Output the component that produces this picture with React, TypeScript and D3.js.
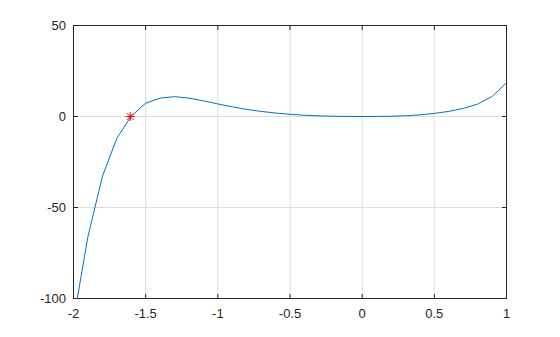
import React from "react";
import * as d3 from "d3";

const xValues = [-2.0, -1.9, -1.8, -1.7, -1.6, -1.5, -1.4, -1.3, -1.2, -1.1, -1.0, -0.9, -0.8, -0.7, -0.6, -0.5, -0.4, -0.3, -0.2, -0.1, 0.0, 0.1, 0.2, 0.3, 0.4, 0.5, 0.6, 0.7, 0.8, 0.9, 1.0];
const yValues = [-112, -66, -33, -12, 0.2, 7.3, 10.1, 10.9, 10.1, 8.6, 6.9, 5.3, 3.9, 2.8, 1.9, 1.2, 0.7, 0.35, 0.15, 0.03, 0, 0.03, 0.15, 0.4, 0.9, 1.7, 2.8, 4.4, 6.8, 11.0, 18.5];
const rootPoint = { x: -1.607, y: 0 };
const xTicks = [-2, -1.5, -1, -0.5, 0, 0.5, 1];
const yTicks = [-100, -50, 0, 50];

const W = 560, H = 337;
const L = 73.5, R = 506.5, T = 25.5, B = 298.5;

export default function App() {
  const x = d3.scaleLinear().domain([-2, 1]).range([L, R]);
  const y = d3.scaleLinear().domain([-100, 50]).range([B, T]);
  const pts = xValues.map((v, i) => [v, yValues[i]] as [number, number]);
  const line = d3.line<[number, number]>().x(d => x(d[0])).y(d => y(d[1]));
  const axisColor = "#262626";
  const gridColor = "#dcdcdc";
  const font = "'Liberation Sans', Arial, sans-serif";
  const tl = 4.5;
  const sx = x(rootPoint.x), sy = y(rootPoint.y), s = 4.5;
  return (
    <svg width={W} height={H} style={{ position: "absolute", left: 0, top: 0, background: "#fff" }}>
      <defs>
        <clipPath id="plotclip">
          <rect x={L} y={T} width={R - L} height={B - T} />
        </clipPath>
      </defs>
      <rect x={0} y={0} width={W} height={H} fill="#fff" />
      {xTicks.filter(t => t > -2 && t < 1).map(t => (
        <line key={"gx" + t} x1={x(t)} x2={x(t)} y1={T} y2={B} stroke={gridColor} strokeWidth={1} />
      ))}
      {yTicks.filter(t => t > -100 && t < 50).map(t => (
        <line key={"gy" + t} x1={L} x2={R} y1={y(t)} y2={y(t)} stroke={gridColor} strokeWidth={1} />
      ))}
      <path d={line(pts) || ""} fill="none" stroke="#0072BD" strokeWidth={1} clipPath="url(#plotclip)" />
      <g stroke="#FF0000" strokeWidth={1}>
        <line x1={sx - s} x2={sx + s} y1={sy} y2={sy} />
        <line x1={sx} x2={sx} y1={sy - s} y2={sy + s} />
        <line x1={sx - s * 0.75} x2={sx + s * 0.75} y1={sy - s * 0.75} y2={sy + s * 0.75} />
        <line x1={sx - s * 0.75} x2={sx + s * 0.75} y1={sy + s * 0.75} y2={sy - s * 0.75} />
      </g>
      <rect x={L} y={T} width={R - L} height={B - T} fill="none" stroke={axisColor} strokeWidth={1} />
      {xTicks.map(t => (
        <g key={"xt" + t}>
          <line x1={x(t)} x2={x(t)} y1={B} y2={B - tl} stroke={axisColor} />
          <line x1={x(t)} x2={x(t)} y1={T} y2={T + tl} stroke={axisColor} />
          <text x={x(t)} y={318} textAnchor="middle" fontFamily={font} fontSize={13} fill={axisColor}>{String(t)}</text>
        </g>
      ))}
      {yTicks.map(t => (
        <g key={"yt" + t}>
          <line x1={L} x2={L + tl} y1={y(t)} y2={y(t)} stroke={axisColor} />
          <line x1={R} x2={R - tl} y1={y(t)} y2={y(t)} stroke={axisColor} />
          <text x={66} y={y(t)} dy="0.35em" textAnchor="end" fontFamily={font} fontSize={13} fill={axisColor}>{String(t)}</text>
        </g>
      ))}
    </svg>
  );
}
